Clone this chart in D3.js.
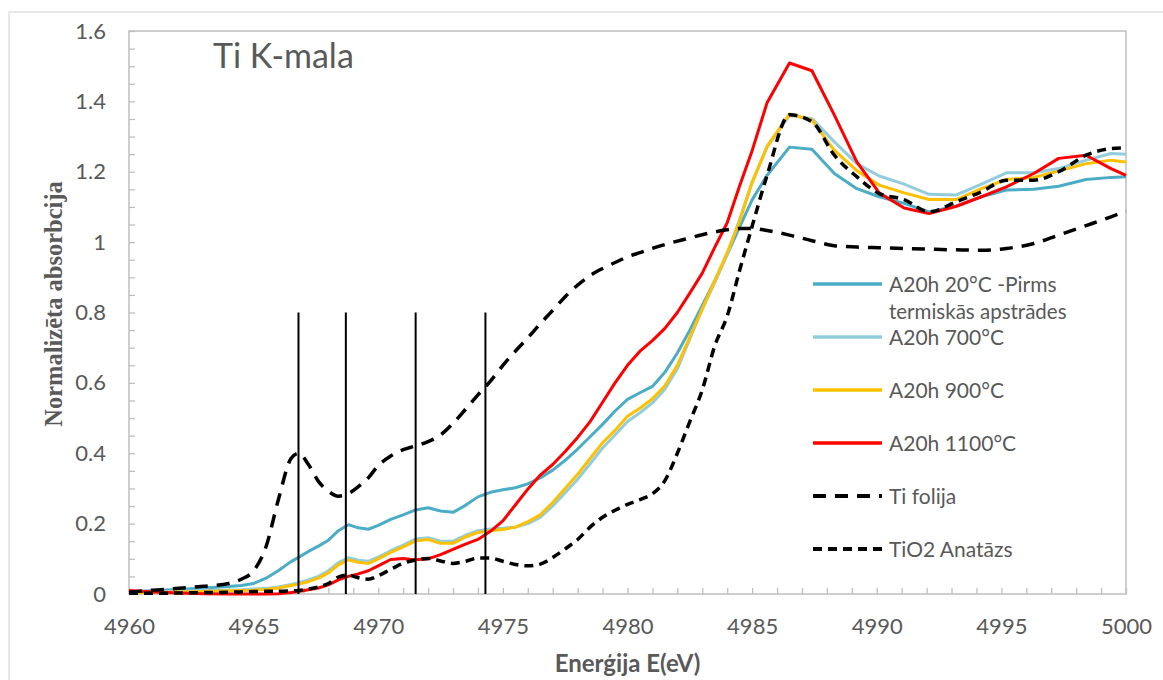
<!DOCTYPE html>
<html>
<head>
<meta charset="utf-8">
<script src="https://cdn.jsdelivr.net/npm/d3@7"></script>
<style>
  html, body { margin: 0; padding: 0; background: #fff; }
  svg { display: block; }
  text { font-family: "Lato", "Open Sans", sans-serif; fill: #595959; }
</style>
</head>
<body>
<svg id="chart" width="1163" height="680"></svg>
<script>
// ---------------- DATA ----------------
const energy = [4960, 4961, 4962, 4963, 4964, 4964.5, 4965, 4965.5, 4966, 4966.5, 4966.8, 4967.2, 4967.6, 4968, 4968.4, 4968.8, 4969.2, 4969.6, 4970, 4970.5, 4971, 4971.5, 4972, 4972.5, 4973, 4973.5, 4974, 4974.5, 4975, 4975.5, 4976, 4976.5, 4977, 4977.5, 4978, 4978.5, 4979, 4979.5, 4980, 4980.5, 4981, 4981.5, 4982, 4982.5, 4983, 4983.5, 4984, 4984.5, 4985, 4985.6, 4986.5, 4987.4, 4988.3, 4989.2, 4990.1, 4991.1, 4992.1, 4993.2, 4994.2, 4995.2, 4996.3, 4997.3, 4998.4, 4999.4, 5000];

const a20h20C = [0.005, 0.010, 0.013, 0.017, 0.021, 0.024, 0.030, 0.045, 0.067, 0.092, 0.104, 0.121, 0.136, 0.153, 0.180, 0.197, 0.188, 0.184, 0.195, 0.212, 0.225, 0.239, 0.245, 0.236, 0.232, 0.252, 0.276, 0.289, 0.296, 0.302, 0.313, 0.330, 0.352, 0.380, 0.412, 0.447, 0.482, 0.520, 0.553, 0.572, 0.590, 0.630, 0.685, 0.750, 0.820, 0.890, 0.965, 1.043, 1.120, 1.190, 1.270, 1.264, 1.195, 1.152, 1.129, 1.110, 1.086, 1.103, 1.129, 1.148, 1.150, 1.159, 1.178, 1.184, 1.186];

const a20h700C = [0.005, 0.006, 0.008, 0.009, 0.011, 0.012, 0.014, 0.016, 0.020, 0.027, 0.032, 0.040, 0.050, 0.066, 0.089, 0.103, 0.096, 0.093, 0.105, 0.123, 0.139, 0.156, 0.160, 0.150, 0.150, 0.167, 0.180, 0.185, 0.187, 0.190, 0.200, 0.218, 0.250, 0.288, 0.326, 0.370, 0.415, 0.452, 0.490, 0.515, 0.543, 0.582, 0.640, 0.725, 0.810, 0.885, 0.965, 1.065, 1.170, 1.270, 1.360, 1.351, 1.285, 1.223, 1.188, 1.165, 1.136, 1.134, 1.165, 1.197, 1.197, 1.209, 1.233, 1.252, 1.250];

const a20h900C = [0.003, 0.004, 0.006, 0.007, 0.009, 0.010, 0.011, 0.013, 0.017, 0.024, 0.028, 0.035, 0.045, 0.060, 0.083, 0.097, 0.090, 0.087, 0.100, 0.118, 0.134, 0.151, 0.155, 0.144, 0.144, 0.162, 0.175, 0.180, 0.183, 0.190, 0.205, 0.225, 0.260, 0.300, 0.340, 0.385, 0.430, 0.465, 0.505, 0.528, 0.555, 0.592, 0.650, 0.730, 0.810, 0.890, 0.970, 1.060, 1.170, 1.272, 1.364, 1.347, 1.261, 1.203, 1.162, 1.140, 1.121, 1.121, 1.152, 1.178, 1.184, 1.202, 1.223, 1.233, 1.228];

const a20h1100C = [0.010, 0.006, 0.003, 0.001, 0.000, 0.000, 0.000, 0.000, 0.001, 0.004, 0.007, 0.012, 0.017, 0.026, 0.040, 0.050, 0.057, 0.066, 0.080, 0.098, 0.101, 0.097, 0.100, 0.112, 0.127, 0.142, 0.155, 0.178, 0.208, 0.253, 0.298, 0.338, 0.368, 0.405, 0.445, 0.490, 0.545, 0.600, 0.650, 0.690, 0.720, 0.755, 0.800, 0.855, 0.912, 0.985, 1.055, 1.160, 1.260, 1.396, 1.509, 1.487, 1.361, 1.228, 1.140, 1.097, 1.081, 1.102, 1.129, 1.157, 1.195, 1.238, 1.247, 1.209, 1.190];

const tiFoil = [0.005, 0.011, 0.016, 0.022, 0.030, 0.042, 0.066, 0.135, 0.270, 0.385, 0.400, 0.368, 0.320, 0.292, 0.278, 0.285, 0.305, 0.330, 0.365, 0.392, 0.410, 0.421, 0.433, 0.452, 0.485, 0.525, 0.566, 0.605, 0.650, 0.690, 0.728, 0.768, 0.806, 0.845, 0.878, 0.905, 0.925, 0.942, 0.958, 0.970, 0.982, 0.993, 1.003, 1.012, 1.021, 1.029, 1.035, 1.039, 1.039, 1.033, 1.020, 1.004, 0.990, 0.986, 0.984, 0.982, 0.980, 0.978, 0.977, 0.982, 0.996, 1.020, 1.047, 1.072, 1.088];

const tio2Anatase = [0.002, 0.002, 0.003, 0.004, 0.005, 0.006, 0.007, 0.008, 0.008, 0.009, 0.010, 0.014, 0.020, 0.030, 0.048, 0.054, 0.046, 0.042, 0.052, 0.070, 0.087, 0.097, 0.101, 0.094, 0.087, 0.093, 0.102, 0.102, 0.093, 0.084, 0.080, 0.085, 0.104, 0.128, 0.155, 0.190, 0.218, 0.238, 0.255, 0.268, 0.285, 0.322, 0.400, 0.490, 0.580, 0.705, 0.790, 0.920, 1.045, 1.190, 1.362, 1.342, 1.247, 1.186, 1.138, 1.121, 1.086, 1.115, 1.143, 1.176, 1.176, 1.200, 1.247, 1.266, 1.268];

const seriesNames = ["A20h 20°C -Pirms termiskās apstrādes", "A20h 700°C", "A20h 900°C", "A20h 1100°C", "Ti folija", "TiO2 Anatāzs"];
const markerEnergies = [4966.8, 4968.7, 4971.5, 4974.3];
const markerTop = 0.8;
const xTickLabels = [4960, 4965, 4970, 4975, 4980, 4985, 4990, 4995, 5000];
const yTickLabels = [0, 0.2, 0.4, 0.6, 0.8, 1, 1.2, 1.4, 1.6];

// ---------------- STYLE ----------------
const series = [
  { name: seriesNames[0], values: a20h20C,    color: "#4bacc6", width: 3,   dash: null,    curve: d3.curveLinear },
  { name: seriesNames[1], values: a20h700C,   color: "#92cddc", width: 3,   dash: null,    curve: d3.curveLinear },
  { name: seriesNames[2], values: a20h900C,   color: "#ffc000", width: 3,   dash: null,    curve: d3.curveLinear },
  { name: seriesNames[3], values: a20h1100C,  color: "#ff0000", width: 3,   dash: null,    curve: d3.curveLinear },
  { name: seriesNames[4], values: tiFoil,     color: "#000000", width: 3.5, dash: "13,9",  curve: d3.curveMonotoneX },
  { name: seriesNames[5], values: tio2Anatase,color: "#000000", width: 3.5, dash: "9,6",   curve: d3.curveMonotoneX }
];

const svg = d3.select("#chart");
const plot = { left: 129, right: 1126, top: 31, bottom: 594 };

const x = d3.scaleLinear().domain([4960, 5000]).range([plot.left, plot.right]);
const y = d3.scaleLinear().domain([0, 1.6]).range([plot.bottom, plot.top]);

// outer chart border
svg.append("rect")
  .attr("x", 9).attr("y", 12).attr("width", 1170).attr("height", 700)
  .attr("fill", "none").attr("stroke", "#d9d9d9").attr("stroke-width", 1.2);

// axes (ticks inside)
const xAxis = d3.axisBottom(x)
  .tickValues(d3.range(0, 41).map(i => 4960 + i))
  .tickSizeInner(-6).tickSizeOuter(0).tickPadding(24)
  .tickFormat(d => xTickLabels.includes(d) ? d : "");
const gx = svg.append("g").attr("transform", `translate(0,${plot.bottom})`).call(xAxis);
gx.select(".domain").remove();
gx.selectAll(".tick line").attr("stroke", "#bfbfbf").attr("stroke-width", 1.3);
gx.selectAll(".tick text").style("font-size", "22px").attr("fill", "#595959");

const yAxis = d3.axisLeft(y)
  .tickValues(d3.range(0, 33).map(i => i / 20))
  .tickSizeInner(-6).tickSizeOuter(0).tickPadding(23)
  .tickFormat(d => yTickLabels.some(t => Math.abs(t - d) < 1e-9) ? String(+d.toFixed(1)) : "");
const gy = svg.append("g").attr("transform", `translate(${plot.left},0)`).call(yAxis);
gy.select(".domain").remove();
gy.selectAll(".tick line").attr("stroke", "#bfbfbf").attr("stroke-width", 1.3);
gy.selectAll(".tick text").style("font-size", "22px").attr("fill", "#595959");

// plot frame
svg.append("rect")
  .attr("x", plot.left).attr("y", plot.top)
  .attr("width", plot.right - plot.left).attr("height", plot.bottom - plot.top)
  .attr("fill", "none").attr("stroke", "#bfbfbf").attr("stroke-width", 1.5);

// series lines
series.forEach(s => {
  const pts = energy.map((e, i) => ({ e, v: s.values[i] }));
  const line = d3.line().x(d => x(d.e)).y(d => y(d.v)).curve(s.curve);
  svg.append("path")
    .datum(pts)
    .attr("d", line)
    .attr("fill", "none")
    .attr("stroke", s.color)
    .attr("stroke-width", s.width)
    .attr("stroke-linejoin", "round")
    .attr("stroke-dasharray", s.dash);
});

// vertical marker lines
svg.append("g").selectAll("line")
  .data(markerEnergies)
  .join("line")
  .attr("x1", d => x(d)).attr("x2", d => x(d))
  .attr("y1", y(0)).attr("y2", y(markerTop))
  .attr("stroke", "#000").attr("stroke-width", 2);

// chart title
svg.append("text")
  .attr("x", 213).attr("y", 68)
  .style("font-size", "34px")
  .text("Ti K-mala");

// axis titles
svg.append("text")
  .attr("x", (plot.left + plot.right) / 2).attr("y", 672)
  .attr("text-anchor", "middle")
  .style("font-size", "24px").style("font-weight", "bold")
  .text("Enerģija E(eV)");

svg.append("text")
  .attr("transform", "translate(62,304) rotate(-90)")
  .attr("text-anchor", "middle")
  .style("font-family", "'Liberation Serif', 'Times New Roman', serif")
  .style("font-size", "24.5px").style("font-weight", "bold")
  .text("Normalizēta absorbcija");

// legend
const legendRows = [284, 337, 390, 443, 496, 549];
const lg = svg.append("g");
series.forEach((s, i) => {
  const ly = legendRows[i];
  lg.append("line")
    .attr("x1", 813).attr("x2", 882).attr("y1", ly).attr("y2", ly)
    .attr("stroke", s.color).attr("stroke-width", s.width + 0.5)
    .attr("stroke-dasharray", s.dash);
  if (i === 0) {
    lg.append("text").attr("x", 889).attr("y", ly + 8).style("font-size", "21px").text("A20h 20°C -Pirms");
    lg.append("text").attr("x", 889).attr("y", ly + 35).style("font-size", "20.5px").text("termiskās apstrādes");
  } else {
    lg.append("text").attr("x", 889).attr("y", ly + 8).style("font-size", "21px").text(s.name);
  }
});
</script>
</body>
</html>
